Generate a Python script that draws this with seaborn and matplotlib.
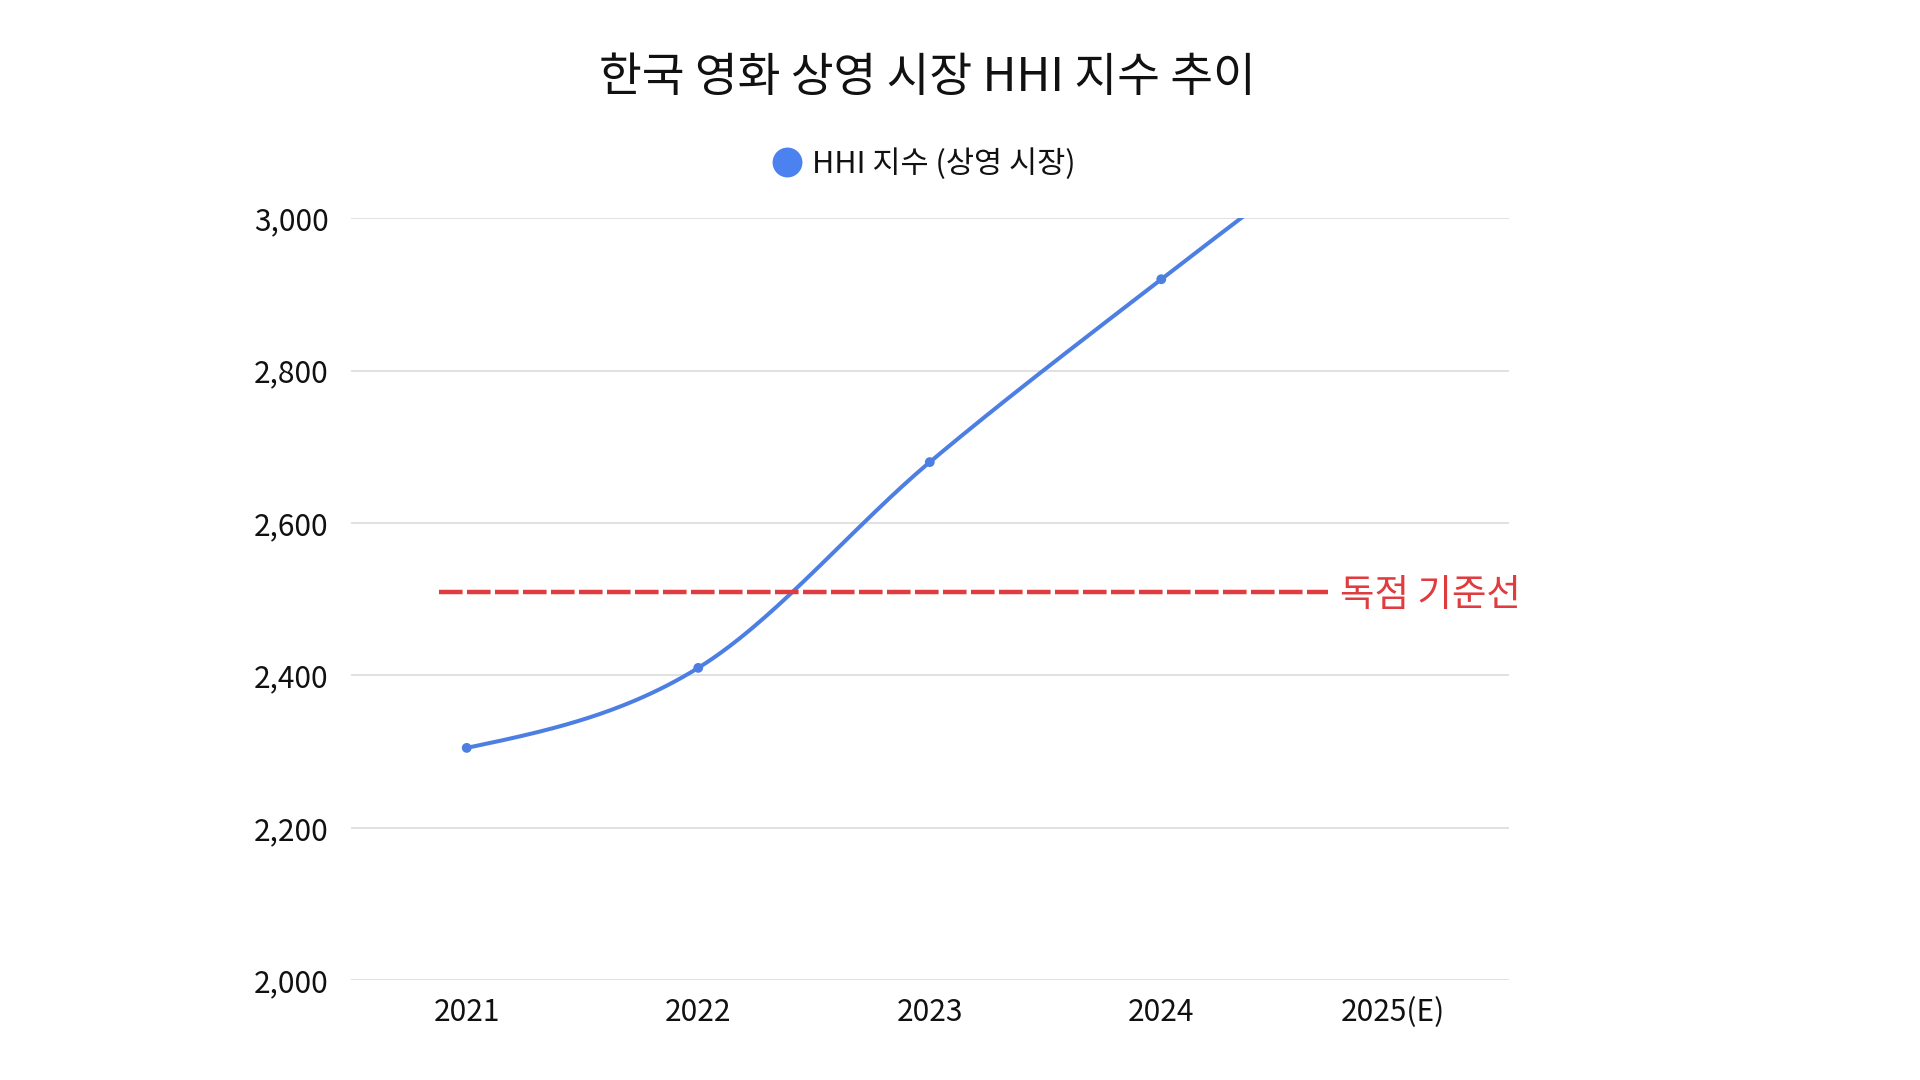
import numpy as np
import matplotlib
matplotlib.use("Agg")
import matplotlib.pyplot as plt
import seaborn as sns
from matplotlib.lines import Line2D

# ----------------------------
# Data
# ----------------------------

years = ["2021", "2022", "2023", "2024", "2025(E)"]
hhi_values = [2305, 2410, 2680, 2920, 3150]
threshold = 2510

title_text = "한국 영화 상영 시장 HHI 지수 추이"
series_label = "HHI 지수 (상영 시장)"
threshold_label = "독점 기준선"

y_ticks = [2000, 2200, 2400, 2600, 2800, 3000]

blue = "#4d7fe3"
red = "#e03b3f"


# ----------------------------
# Monotone (d3 monotoneX style) smoothing of the line
# ----------------------------

def monotone_curve(xs, ys, steps=60):
    xs = np.asarray(xs, dtype=float)
    ys = np.asarray(ys, dtype=float)
    n = len(xs)
    h = np.diff(xs)
    s = np.diff(ys) / h
    t = np.zeros(n)
    for i in range(1, n - 1):
        p = (s[i - 1] * h[i] + s[i] * h[i - 1]) / (h[i - 1] + h[i])
        t[i] = (np.sign(s[i - 1]) + np.sign(s[i])) * min(abs(s[i - 1]), abs(s[i]), 0.5 * abs(p))
    t[0] = (3 * s[0] - t[1]) / 2
    t[-1] = (3 * s[-1] - t[-2]) / 2
    out_x, out_y = [], []
    for i in range(n - 1):
        u = np.linspace(0, 1, steps)
        h00 = 2 * u**3 - 3 * u**2 + 1
        h10 = u**3 - 2 * u**2 + u
        h01 = -2 * u**3 + 3 * u**2
        h11 = u**3 - u**2
        yy = h00 * ys[i] + h10 * h[i] * t[i] + h01 * ys[i + 1] + h11 * h[i] * t[i + 1]
        out_x.extend(xs[i] + u * h[i])
        out_y.extend(yy)
    return np.array(out_x), np.array(out_y)


# ----------------------------
# Figure
# ----------------------------

sns.set_theme(style="white")
plt.rcParams["font.family"] = ["Noto Sans CJK KR", "DejaVu Sans"]

fig = plt.figure(figsize=(19.2, 10.8), dpi=100)
ax = fig.add_axes([0.1828, 0.0923, 0.6029, 0.7056])

x_pos = np.arange(len(years))
curve_x, curve_y = monotone_curve(x_pos, hhi_values)

sns.lineplot(x=curve_x, y=curve_y, ax=ax, color=blue, linewidth=2.9, sort=False)
sns.scatterplot(x=x_pos, y=hhi_values, ax=ax, color=blue, s=50, edgecolor="none", zorder=3)

# threshold line
ax.hlines(threshold, -0.12, 3.72, colors=red, linewidth=3.2,
          linestyles=(0, (5.3, 1.0)), zorder=2)
ax.annotate(threshold_label, xy=(3.77, threshold), xytext=(0, -3),
            textcoords="offset points", color=red, fontsize=27,
            va="center", ha="left")

# ----------------------------
# Axes styling
# ----------------------------

ax.set_xlim(-0.5, len(years) - 0.5)
ax.set_ylim(2000, 3000)
ax.set_xticks(x_pos)
ax.set_xticklabels(years)
ax.set_yticks(y_ticks)
ax.set_yticklabels([f"{v:,}" for v in y_ticks])
ax.tick_params(axis="both", labelsize=21.5, colors="#111111", length=0)
ax.tick_params(axis="y", pad=16)
ax.tick_params(axis="x", pad=12)

ax.grid(axis="y", color="#dcdcdc", linewidth=1.2)
ax.set_axisbelow(True)
for side in ax.spines.values():
    side.set_visible(False)

# ----------------------------
# Title and legend
# ----------------------------

fig.text(0.483, 0.928, title_text, ha="center", va="center",
         fontsize=33.5, color="#111111")

handle = Line2D([], [], marker="o", linestyle="none", markersize=21.5,
                markerfacecolor="#4b82f0", markeredgecolor="none")
fig.legend([handle], [series_label], loc="center", bbox_to_anchor=(0.481, 0.848),
           frameon=False, fontsize=22, handletextpad=0.3, handlelength=1.0,
           labelcolor="#111111")

plt.savefig("out.png", dpi=100)
